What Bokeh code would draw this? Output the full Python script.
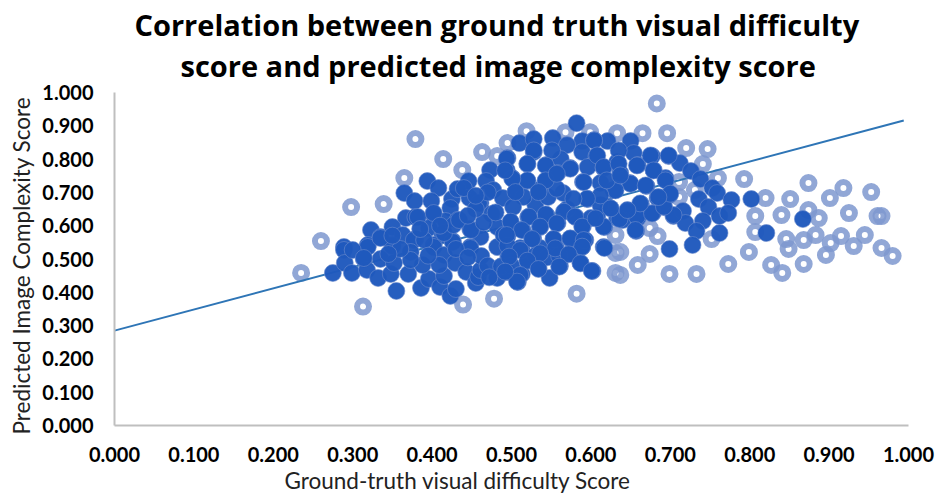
from bokeh.plotting import figure
from bokeh.models import FixedTicker, NumeralTickFormatter, Range1d, Title
from bokeh.embed import file_html
from bokeh.resources import INLINE

title_lines = ["Correlation between ground truth visual difficulty",
               "score and predicted image complexity score"]
x_title = "Ground-truth visual difficulty Score"
y_title = "Predicted Image Complexity Score"
ticks = [0.0, 0.1, 0.2, 0.3, 0.4, 0.5, 0.6, 0.7, 0.8, 0.9, 1.0]

# points drawn as pale rings
ring_x = [.298,.339,.379,.414,.438,.365,.260,.463,.495,.519,.568,.599,.482,.633,.235,.313,.439,.478,.582,.631,.631,.631,
          .683,.665,.696,.720,.747,.741,.760,.793,.874,.918,.953,.820,.851,.901,.807,.840,.874,.887,.925,.961,.966,
          .674,.684,.752,.807,.846,.868,.883,.849,.902,.915,.931,.945,.966,.980,.896,.868,.827,.841,.799,.773,.733,.699,
          .674,.659,.637,.637,.711,.711,.731]
ring_y = [.656,.665,.860,.800,.767,.743,.554,.821,.848,.884,.881,.881,.809,.878,.458,.357,.363,.381,.396,.458,.518,.572,
          .967,.878,.878,.833,.830,.785,.743,.740,.728,.713,.701,.683,.680,.683,.629,.632,.647,.623,.638,.629,.629,
          .593,.569,.560,.581,.560,.557,.572,.530,.548,.569,.539,.572,.533,.509,.512,.485,.482,.458,.521,.485,.455,.455,
          .515,.482,.452,.521,.686,.731,.707]

# points drawn as solid dark dots
dot_x = [.582,.510,.528,.552,.589,.621,.604,.570,.495,.528,.520,.544,.562,.589,.607,.473,.494,.446,.468,.394,.408,.365,
         .378,.399,.425,.432,.447,.477,.505,.501,.520,.543,.558,.574,.596,.616,.633,.590,.612,.628,.489,.461,.423,.402,
         .367,.379,.417,.432,.396,.350,.323,.335,.363,.379,.413,.426,.448,.475,.461,.482,.495,.499,.514,.527,.553,.536,
         .544,.521,.530,.515,.502,.558,.581,.590,.570,.596,.565,.546,.534,.622,.617,.633,.608,.574,.589,.616,.289,.319,
         .350,.377,.402,.448,.482,.511,.536,.275,.289,.290,.299,.319,.314,.318,.332,.348,.355,.335,.350,.352,.370,.386,
         .396,.388,.373,.402,.415,.410,.423,.430,.415,.429,.443,.455,.458,.461,.448,.462,.426,.415,.496,.520,.482,.495,
         .508,.513,.548,.534,.561,.575,.587,.602,.589,.617,.513,.527,.556,.593,.427,.650,.654,.677,.698,.712,.726,.738,
         .659,.679,.694,.649,.670,.753,.759,.777,.802,.736,.748,.762,.773,.699,.684,.663,.692,.646,.704,.716,.678,.659,
         .719,.741,.733,.762,.657,.728,.699,.867,.821,.640,.637,.612,.600,
         .300,.314,.373,.335,.382,.402,.390,.434,.449,.490,.459,.440,.409,.360,.345,.395,.430,.445,.470,.487,.472,.500,
         .530,.545,.560,.495,.465,.480,.455,.445,.410,.385,.350,.470,.455,
         .604,.528,.551,.494,.520,.543,.574,.608,.635,.675,.698,.616,.635,.658,.679,.694,.650,.669,.631,.612,.595,.578,
         .557,.543,.520,.501,.557,.591,.620,.637,.492,.505,.534,.566,.580,.589,.616,.636,.658,.656,.677,.704,.692,.662,
         .646,.625,.700,.685,.606,.543,.522,.499,.536,.557,.513,.494,.526,.553,.574,.591,.555,.589,.536,.572,.511,.497,
         .520,.560,.587,.601,.534,.511,.507,.492]
dot_y = [.908,.848,.860,.863,.854,.854,.857,.842,.803,.821,.785,.782,.800,.821,.809,.767,.767,.734,.734,.734,.713,.698,
         .674,.674,.680,.710,.683,.707,.701,.743,.734,.734,.758,.773,.776,.773,.791,.731,.728,.707,.683,.668,.653,.632,
         .623,.626,.614,.617,.593,.596,.587,.566,.572,.560,.572,.554,.590,.635,.566,.596,.569,.611,.587,.560,.560,.596,
         .632,.626,.662,.686,.656,.608,.626,.599,.650,.680,.698,.686,.707,.656,.596,.623,.626,.560,.542,.536,.536,.542,
         .542,.557,.542,.536,.536,.533,.533,.458,.527,.488,.458,.536,.500,.467,.443,.455,.404,.500,.539,.488,.455,.413,
         .440,.482,.521,.536,.512,.416,.389,.410,.449,.488,.461,.428,.446,.467,.533,.509,.551,.578,.506,.494,.443,.461,
         .431,.455,.443,.473,.479,.518,.488,.464,.536,.533,.527,.563,.533,.557,.602,.854,.818,.809,.809,.788,.764,.740,
         .782,.767,.743,.728,.719,.713,.698,.677,.680,.680,.656,.629,.638,.692,.683,.665,.656,.641,.629,.644,.638,.623,
         .608,.614,.584,.578,.584,.542,.530,.620,.578,.617,.758,.662,.623,
         .527,.503,.497,.563,.626,.638,.557,.617,.587,.572,.668,.713,.482,.530,.515,.510,.530,.505,.480,.478,.445,.480,
         .510,.505,.510,.540,.610,.640,.650,.630,.600,.590,.570,.700,.690,
         .856,.826,.826,.801,.786,.781,.771,.811,.826,.811,.811,.776,.786,.781,.766,.736,.726,.721,.706,.691,.681,.681,
         .711,.736,.736,.741,.756,.731,.736,.751,.766,.701,.701,.642,.627,.597,.597,.620,.627,.587,.637,.632,.657,.667,
         .647,.652,.696,.686,.622,.634,.627,.612,.597,.607,.587,.572,.560,.560,.562,.557,.532,.537,.517,.514,.527,.507,
         .495,.477,.487,.464,.470,.452,.432,.462]

# fitted trend line, read at its two ends
trend_x = [0.0, 0.994]
trend_y = [0.285, 0.916]

p = figure(width=935, height=493, output_backend="svg", toolbar_location=None,
           x_range=Range1d(0, 1), y_range=Range1d(0, 1), title=None,
           min_border_left=113, min_border_right=27, min_border_top=92, min_border_bottom=67)
p.outline_line_color = None
p.grid.visible = False
p.background_fill_color = "white"

for ax in (p.xaxis[0], p.yaxis[0]):
    ax.ticker = FixedTicker(ticks=ticks)
    ax.formatter = NumeralTickFormatter(format="0.000")
    ax.major_tick_line_color = None
    ax.minor_tick_line_color = None
    ax.axis_line_color = "#bfbfbf"
    ax.axis_line_width = 2
    ax.major_label_text_font = "Lato"
    ax.major_label_text_font_size = "20px"
    ax.major_label_text_font_style = "bold"
    ax.major_label_text_color = "black"
p.xaxis[0].major_label_standoff = 15
p.yaxis[0].major_label_standoff = 15

# a thin blank title holds the two heading lines clear of the plot area
p.add_layout(Title(text="\u00a0", text_font_size="6px", standoff=0), "above")
p.add_layout(Title(text=title_lines[1], align="left", offset=66, text_font="Open Sans",
                   text_font_size="29px", text_font_style="bold", text_color="black", standoff=0), "above")
p.add_layout(Title(text=title_lines[0], align="left", offset=20, text_font="Open Sans",
                   text_font_size="29px", text_font_style="bold", text_color="black", standoff=0), "above")
p.add_layout(Title(text=x_title, align="left", offset=170, text_font="Lato",
                   text_font_size="22.5px", text_font_style="normal", text_color="#222222", standoff=0), "below")
p.add_layout(Title(text=y_title, align="left", offset=-9, text_font="Lato",
                   text_font_size="22.5px", text_font_style="normal", text_color="#222222", standoff=10), "left")

p.scatter(ring_x, ring_y, size=12, marker="circle", fill_alpha=0, line_color="#7e98cf",
          line_width=6, line_alpha=0.85)
p.line(trend_x, trend_y, line_color="#2e75b6", line_width=2)
p.scatter(dot_x, dot_y, size=17, marker="circle", fill_color="#1f59bd", fill_alpha=0.97,
          line_color="#6f8dcc", line_width=0.6)

open("out.html", "w").write(file_html(p, INLINE))
